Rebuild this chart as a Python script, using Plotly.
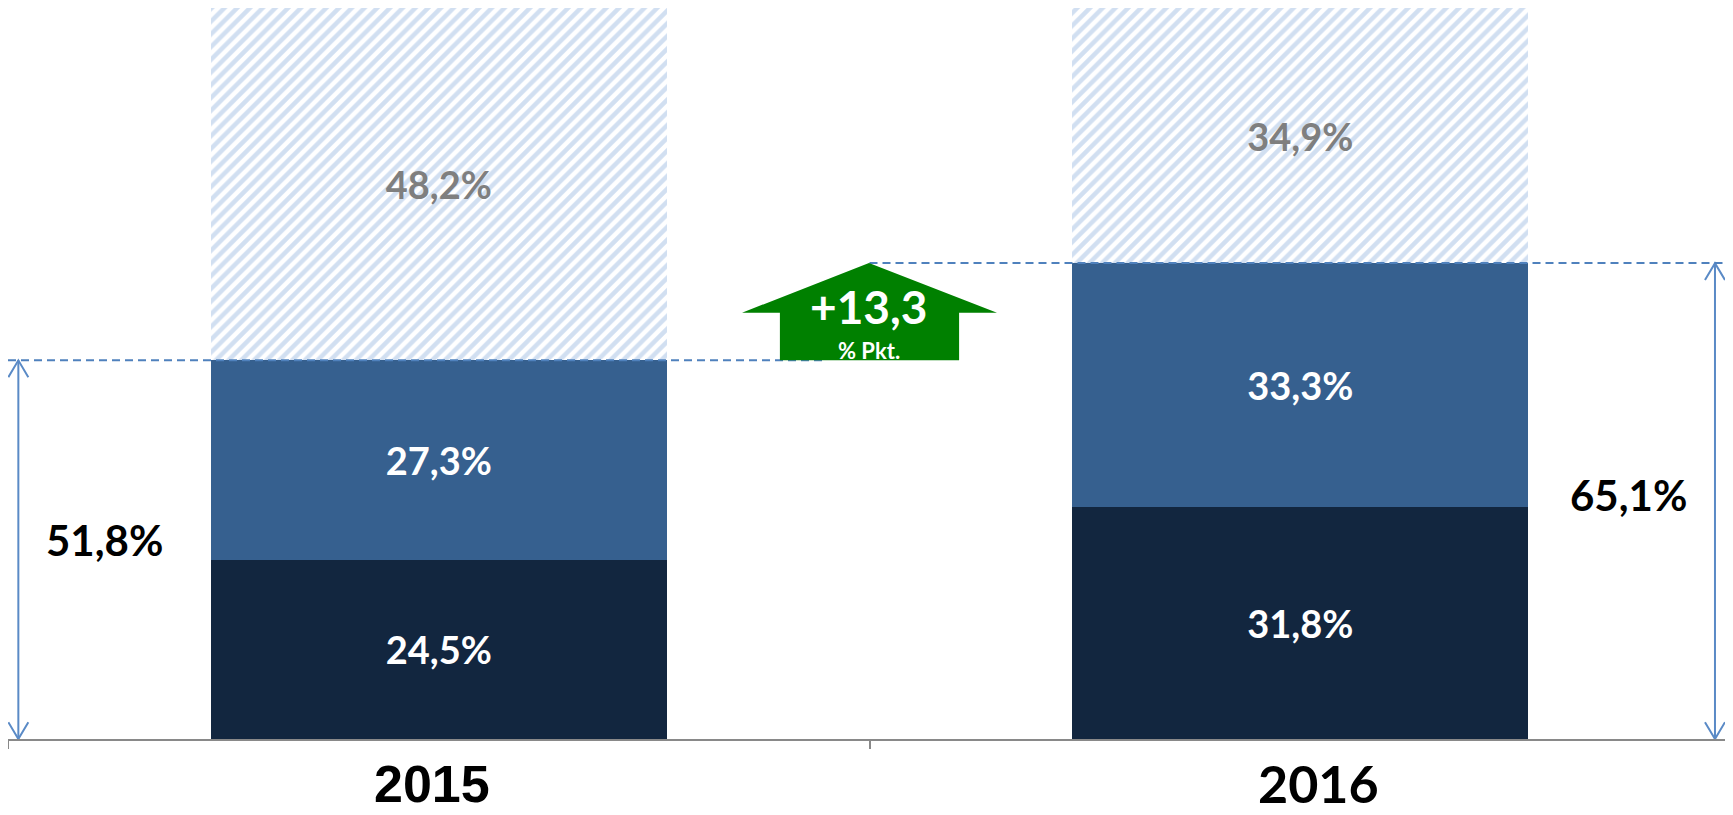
import plotly.graph_objects as go

# ---- data ----
years = ["2015", "2016"]
bottom_vals = [24.5, 31.8]     # dark segment
middle_vals = [27.3, 33.3]     # medium blue segment
rest_vals = [48.2, 34.9]       # hatched remainder
totals = [51.8, 65.1]
delta_label = "+13,3"
delta_unit = "% Pkt."

def fmt(v):
    return f"{v:.1f}".replace(".", ",") + "%"

xpos = [0, 1]
W, H = 1725, 807
BW = 0.529

fig = go.Figure()
lab_font = dict(family="Lato", size=38, color="white", weight="bold")

fig.add_bar(x=xpos, y=bottom_vals, width=BW, marker=dict(color="#12263f", line=dict(width=0)),
            text=[fmt(v) for v in bottom_vals], textposition="inside",
            insidetextanchor="middle", textfont=lab_font, hoverinfo="skip")
fig.add_bar(x=xpos, y=middle_vals, width=BW, marker=dict(color="#36608f", line=dict(width=0)),
            text=[fmt(v) for v in middle_vals], textposition="inside",
            insidetextanchor="middle", textfont=lab_font, hoverinfo="skip")
fig.add_bar(x=xpos, y=rest_vals, width=BW,
            marker=dict(color="white", line=dict(width=0),
                        pattern=dict(shape="/", fgcolor="#a3bfe4", bgcolor="white",
                                     size=9, solidity=0.5)),
            text=[fmt(v) for v in rest_vals], textposition="inside",
            insidetextanchor="middle",
            textfont=dict(family="Lato", size=38, color="#7f7f7f", weight="bold"),
            hoverinfo="skip")

arrow_col = "#5a8ac6"
dash_col = "#4f81bd"
left_x = -0.488
right_x = 1.4814
dx, dy = 0.0116, 2.3

# vertical double arrows
for ax_x, tot in [(left_x, totals[0]), (right_x, totals[1])]:
    fig.add_scatter(x=[ax_x, ax_x], y=[0, tot], mode="lines",
                    line=dict(color=arrow_col, width=2), hoverinfo="skip", showlegend=False)
    fig.add_scatter(x=[ax_x - dx, ax_x, ax_x + dx], y=[tot - dy, tot, tot - dy], mode="lines",
                    line=dict(color=arrow_col, width=2), hoverinfo="skip", showlegend=False)
    fig.add_scatter(x=[ax_x - dx, ax_x, ax_x + dx], y=[dy, 0, dy], mode="lines",
                    line=dict(color=arrow_col, width=2), hoverinfo="skip", showlegend=False)

shapes = []
# dashed level lines
shapes.append(dict(type="line", xref="x", yref="y", x0=-0.5, x1=0.45, y0=totals[0], y1=totals[0],
                   line=dict(color=dash_col, width=2, dash="8px,5px"), layer="above"))
shapes.append(dict(type="line", xref="x", yref="y", x0=0.5, x1=1.5, y0=totals[1], y1=totals[1],
                   line=dict(color=dash_col, width=2, dash="8px,5px"), layer="above"))

# green up arrow between totals
lo, hi = totals
wing = lo + 0.49 * (hi - lo)
sl, sr = 0.396, 0.604
wl, wr = 0.352, 0.648
apex = 0.4994
path = (f"M {sl} {lo} L {sl} {wing} L {wl} {wing} L {apex} {hi} "
        f"L {wr} {wing} L {sr} {wing} L {sr} {lo} Z")
shapes.append(dict(type="path", xref="x", yref="y", path=path,
                   fillcolor="#008000", line=dict(width=0), layer="above"))

annotations = [
    dict(x=apex, y=lo + 0.55 * (hi - lo), xref="x", yref="y", text=delta_label, showarrow=False,
         font=dict(family="Lato", size=46, color="white", weight="bold")),
    dict(x=apex, y=lo + 0.1 * (hi - lo), xref="x", yref="y", text=delta_unit, showarrow=False,
         font=dict(family="Lato", size=22, color="white", weight="bold")),
    dict(x=-0.388, y=totals[0] / 2, yshift=10, xref="x", yref="y", text=fmt(totals[0]),
         showarrow=False, font=dict(family="Lato", size=42, color="black", weight="bold")),
    dict(x=1.3806, y=totals[1] / 2, yshift=6, xref="x", yref="y", text=fmt(totals[1]),
         showarrow=False, font=dict(family="Lato", size=42, color="black", weight="bold")),
    dict(x=-0.008, y=0, xref="x", yref="paper", yanchor="middle", yshift=-45, text=years[0],
         showarrow=False,
         font=dict(family="Liberation Sans", size=52, color="black", weight="bold")),
    dict(x=1.021, y=0, xref="x", yref="paper", yanchor="middle", yshift=-44, text=years[1],
         showarrow=False, font=dict(family="Lato", size=52, color="black", weight="bold")),
]

fig.update_layout(
    width=W, height=H, barmode="stack", showlegend=False,
    plot_bgcolor="white", paper_bgcolor="white",
    margin=dict(l=0, r=2, t=0, b=76, autoexpand=False),
    shapes=shapes, annotations=annotations,
    xaxis=dict(range=[-0.5, 1.5], showgrid=False, zeroline=False, showline=True,
               linecolor="#898989", linewidth=2, tickvals=[-0.5, 0.5, 1.5],
               ticktext=["", "", ""], ticks="outside", ticklen=8, tickwidth=2,
               tickcolor="#898989", fixedrange=True),
    yaxis=dict(range=[0, 100], visible=False, fixedrange=True),
)

fig.write_html("out.html")
